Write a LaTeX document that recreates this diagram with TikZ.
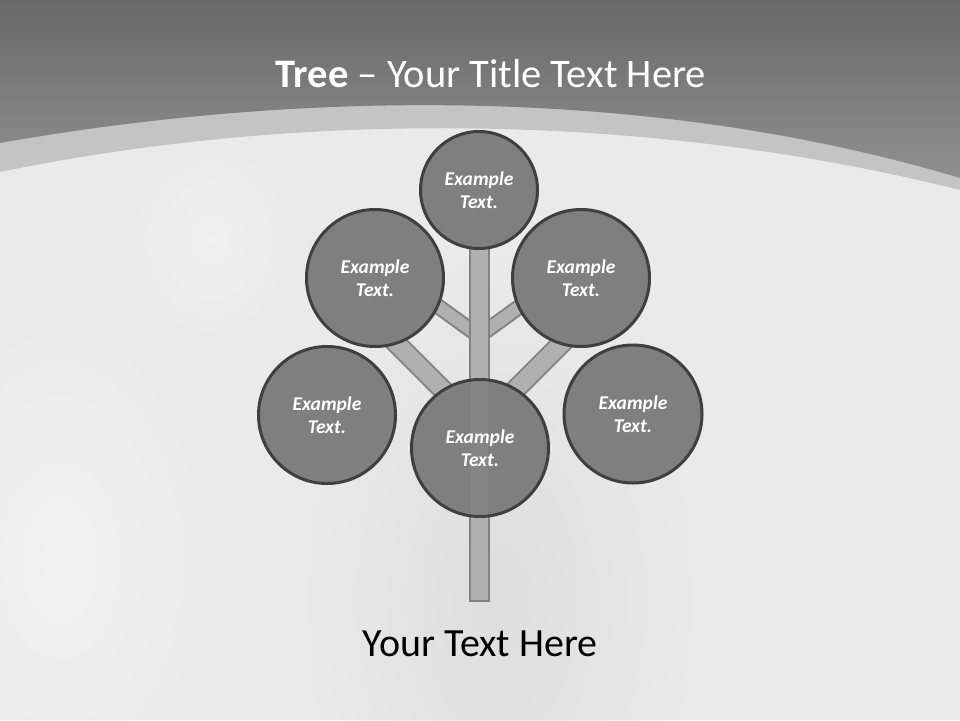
\documentclass[tikz,border=0pt]{standalone}
\usepackage{fontspec}
\setmainfont{Carlito}
\usetikzlibrary{fadings}
\tikzfading[name=fuzzy, inner color=transparent!0, outer color=transparent!100]
\definecolor{circfill}{HTML}{7F7F7F}
\definecolor{circline}{HTML}{3F3F3F}
\definecolor{branchfill}{HTML}{B0B0B0}
\definecolor{branchline}{HTML}{828282}
\definecolor{bandcol}{HTML}{C4C4C4}
\definecolor{topdark}{HTML}{686868}
\definecolor{topmid}{HTML}{909090}
\definecolor{lowbg}{HTML}{EAEAEA}
\tikzset{
  leaf/.style={circle, draw=circline, line width=3pt, fill=circfill, text=white,
    font=\fontsize{19.5}{23}\selectfont\bfseries\itshape, align=center, inner sep=0pt},
  branchouter/.style={draw=branchline, line cap=butt},
  branchinner/.style={draw=branchfill, line cap=butt},
}
\begin{document}
\begin{tikzpicture}[x=1pt,y=-1pt]
\useasboundingbox (0,0) rectangle (960,720);
% background
\fill[lowbg] (0,0) rectangle (960,720);
\fill[black!13, path fading=fuzzy] (500,600) ellipse (190 and 340);
\fill[black!5, path fading=fuzzy] (60,560) ellipse (160 and 260);
\fill[white, path fading=fuzzy, opacity=0.3] (210,240) ellipse (90 and 110);
% band and top
\fill[bandcol] (0,0) -- (960,0) -- (960,190) .. controls (650,112) and (300,110) .. (0,172) -- cycle;
\shade[top color=topdark, bottom color=topmid] (0,0) -- (960,0) -- (960,178) .. controls (650,85) and (300,90) .. (0,143) -- cycle;
% title
\node[text=white, font=\fontsize{40.5}{48}\selectfont, anchor=base] (title) at (491,87) {\textbf{Tree} – Your Title Text Here};
% branches
\coordinate (jn) at (479,336);
\coordinate (jw) at (479,426);
\coordinate (nl) at (414,289);
\coordinate (nr) at (544,289);
\coordinate (wl) at (384,331);
\coordinate (wr) at (574,331);
\foreach \a/\b in {jn/nl, jn/nr}{
  \draw[branchouter, line width=16pt] (\a) -- (\b);
  \draw[branchinner, line width=12pt] (\a) -- (\b);}
\foreach \a/\b in {jw/wl, jw/wr}{
  \draw[branchouter, line width=21pt] (\a) -- (\b);
  \draw[branchinner, line width=17pt] (\a) -- (\b);}
% trunk
\draw[draw=branchline, fill=branchfill, line width=2pt] (470,240) rectangle (489,601);
% circles
\node[leaf, minimum size=117pt] (top) at (479,190) {Example\\Text.};
\node[leaf, minimum size=137pt] (ul) at (375,278) {Example\\Text.};
\node[leaf, minimum size=137pt] (ur) at (581,278) {Example\\Text.};
\node[leaf, minimum size=137pt] (l) at (327,415) {Example\\Text.};
\node[leaf, minimum size=138pt] (r) at (633,414) {Example\\Text.};
\node[leaf, minimum size=137pt] (b) at (480,448) {};
\begin{scope}
  \clip (b.center) circle (67pt);
  \fill[white, opacity=0.05] (471,370) rectangle (488,530);
\end{scope}
\node[text=white, font=\fontsize{19.5}{23}\selectfont\bfseries\itshape, align=center] (btext) at (b.center) {Example\\Text.};
% bottom text
\node[text=black, font=\fontsize{40}{48}\selectfont, anchor=base] (foot) at (480,656) {Your Text Here};
\end{tikzpicture}
\end{document}
